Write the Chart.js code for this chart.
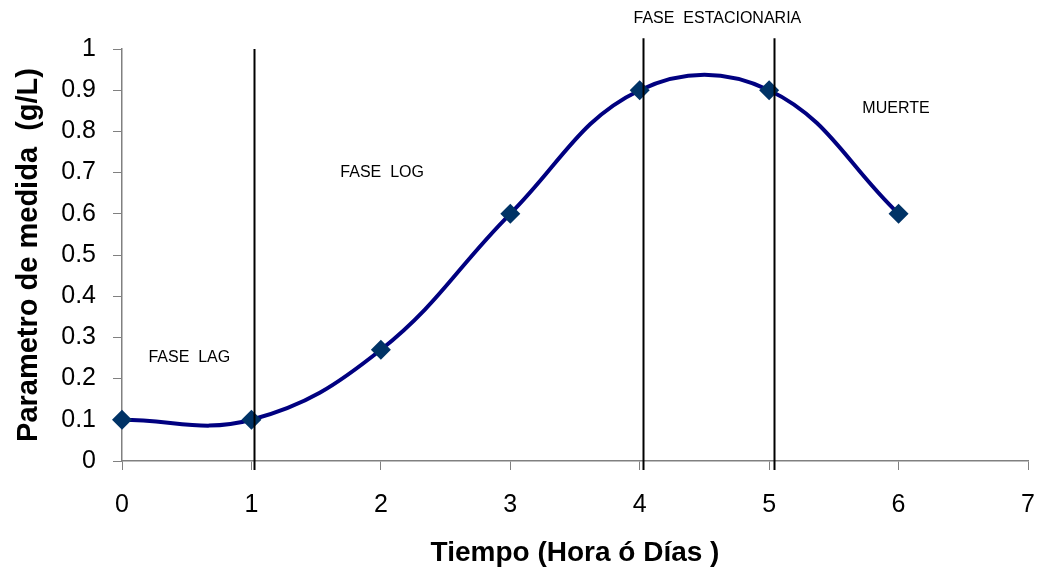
<!DOCTYPE html>
<html>
<head>
<meta charset="utf-8">
<script src="https://cdn.jsdelivr.net/npm/chart.js@4"></script>
<style>
  body { margin: 0; background: #fff; }
  #wrap { width: 1038px; height: 572px; }
</style>
</head>
<body>
<div id="wrap"><canvas id="grafico"></canvas></div>
<script>
// datos
const tiempos = [0, 1, 2, 3, 4, 5, 6];
const valores = [0.1, 0.1, 0.27, 0.6, 0.9, 0.9, 0.6];

// lineas verticales que separan las fases (x, y superior)
const limitesFase = [[1.02, 1.0], [4.025, 1.026], [5.04, 1.026]];
const nombresFase = ["FASE  LAG", "FASE  LOG", "FASE  ESTACIONARIA", "MUERTE"];
const posNombres = [[0.52, 0.252], [2.01, 0.701], [4.6, 1.073], [5.98, 0.856]];

const fuente = "'Liberation Sans', Arial, sans-serif";

const fasesPlugin = {
  id: "fases",
  afterDatasetsDraw(chart) {
    const ctx = chart.ctx;
    const xs = chart.scales.x, ys = chart.scales.y;
    ctx.save();
    ctx.strokeStyle = "#000";
    ctx.lineWidth = 2;
    limitesFase.forEach(([x, yTop]) => {
      const px = Math.round(xs.getPixelForValue(x)) + 0.5;
      ctx.beginPath();
      ctx.moveTo(px, ys.getPixelForValue(yTop));
      ctx.lineTo(px, ys.getPixelForValue(0) + 9);
      ctx.stroke();
    });
    ctx.fillStyle = "#000";
    ctx.font = "16px " + fuente;
    ctx.textAlign = "center";
    ctx.textBaseline = "middle";
    nombresFase.forEach((t, i) => {
      ctx.fillText(t, xs.getPixelForValue(posNombres[i][0]), ys.getPixelForValue(posNombres[i][1]));
    });
    ctx.restore();
  }
};

new Chart(document.getElementById("grafico"), {
  type: "scatter",
  data: {
    datasets: [{
      data: tiempos.map((t, i) => ({ x: t, y: valores[i] })),
      showLine: true,
      tension: 0.4,
      borderColor: "#000080",
      borderWidth: 4,
      pointStyle: "rectRot",
      pointRadius: 10,
      pointHoverRadius: 10,
      pointBackgroundColor: "#003366",
      pointBorderWidth: 0,
      clip: false
    }]
  },
  options: {
    responsive: true,
    maintainAspectRatio: false,
    animation: false,
    layout: { padding: { top: 49, right: 6, left: 0, bottom: 0 } },
    plugins: { legend: { display: false }, tooltip: { enabled: false } },
    scales: {
      x: {
        type: "linear",
        min: 0, max: 7,
        afterFit(s) { s.height = 111; s.paddingLeft = 0; s.paddingRight = 0; },
        ticks: { stepSize: 1, color: "#000", padding: 20, font: { family: fuente, size: 25 } },
        grid: { drawOnChartArea: false, color: "#808080", tickLength: 9 },
        border: { color: "#808080", width: 1.5 },
        title: {
          display: true, text: "Tiempo (Hora ó Días )", color: "#000",
          font: { family: fuente, size: 28, weight: "bold" },
          padding: { top: 0, bottom: 2 }
        }
      },
      y: {
        min: 0, max: 1,
        afterFit(s) { s.width = 122; },
        ticks: {
          stepSize: 0.1, color: "#000", padding: 17,
          font: { family: fuente, size: 25 },
          callback: v => +v.toFixed(1)
        },
        grid: { drawOnChartArea: false, color: "#808080", tickLength: 9 },
        border: { color: "#808080", width: 1.5 },
        title: {
          display: true, text: "Parametro de medida  (g/L)", color: "#000",
          font: { family: fuente, size: 29, weight: "bold" },
          padding: { top: 12, bottom: 0 }
        }
      }
    }
  },
  plugins: [fasesPlugin]
});
</script>
</body>
</html>
